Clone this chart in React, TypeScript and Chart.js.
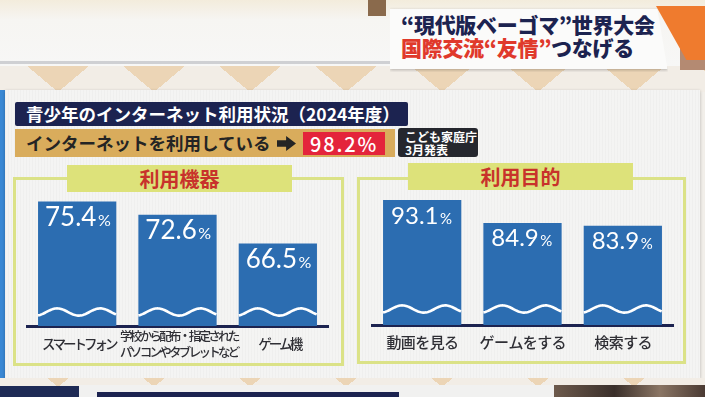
import React, { useEffect, useRef } from 'react';
import { Chart, registerables } from 'chart.js';

Chart.register(...registerables);

// ---------- data ----------
const headlineLine1 = '“現代版ベーゴマ”世界大会';
const headlineLine2Red = '国際交流“友情”';
const headlineLine2Navy = 'つなげる';
const surveyTitle = '青少年のインターネット利用状況（2024年度）';
const usageLabel = 'インターネットを利用している';
const usageRate = 98.2;
const sourceLines = ['こども家庭庁', '3月発表'];

const deviceTitle = '利用機器';
const deviceLabels: (string | string[])[] = [
  'スマートフォン',
  ['学校から配布・指定された', 'パソコンやタブレットなど'],
  'ゲーム機',
];
const deviceValues = [75.4, 72.6, 66.5];

const purposeTitle = '利用目的';
const purposeLabels: (string | string[])[] = ['動画を見る', 'ゲームをする', '検索する'];
const purposeValues = [93.1, 84.9, 83.9];

// ---------- styles ----------
const JP = '"Noto Sans CJK JP", "Noto Sans", sans-serif';
const NUM = 'Lato, "Noto Sans", sans-serif';
const BAR_BLUE = '#2c6db1';
const NAVY = '#1c2350';
const RED_TEXT = '#c8322b';
const PANEL_BORDER = '#dbe287';
const PANEL_HEAD = '#dde27a';

// x category labels, positioned by the x scale, vertically centred under the axis
const categoryLabelPlugin = {
  id: 'catLabels',
  afterDraw(chart: any, _a: any, opts: any) {
    const ctx = chart.ctx as CanvasRenderingContext2D;
    const xScale = chart.scales.x;
    const labels = chart.data.labels as (string | string[])[];
    ctx.save();
    ctx.fillStyle = opts.color;
    ctx.textAlign = 'center';
    ctx.textBaseline = 'middle';
    labels.forEach((l, i) => {
      const lines = Array.isArray(l) ? l : [l];
      const multi = lines.length > 1;
      const size = multi ? opts.longSize : opts.size;
      const spacing = multi ? opts.longSpacing : opts.spacing;
      (ctx as any).letterSpacing = `${spacing}px`;
      ctx.font = `500 ${size}px ${JP}`;
      const x = xScale.getPixelForTick(i);
      const cy = chart.chartArea.bottom + opts.offset;
      lines.forEach((line, j) => {
        const yy = cy + (j - (lines.length - 1) / 2) * opts.lineHeight;
        ctx.fillText(line, x - spacing / 2, yy);
      });
    });
    ctx.restore();
  },
};

const barDecorPlugin = {
  id: 'barDecor',
  afterDatasetsDraw(chart: any, _a: any, opts: any) {
    const ctx = chart.ctx as CanvasRenderingContext2D;
    const meta = chart.getDatasetMeta(0);
    const data = chart.data.datasets[0].data as number[];
    const base = chart.chartArea.bottom;
    ctx.save();
    meta.data.forEach((bar: any, i: number) => {
      const x = bar.x as number;
      const y = bar.y as number;
      const width = bar.width as number;
      const left = x - width / 2;
      const right = x + width / 2;
      // wave
      const cy = base - opts.waveRise;
      const P = width * 0.55;
      const A = 3.6;
      const phase = width * 0.03;
      ctx.beginPath();
      let first = true;
      for (let px = left; px <= right + 0.01; px += 1) {
        const yy = cy + A * Math.cos((2 * Math.PI * (px - left + phase)) / P);
        if (first) {
          ctx.moveTo(px, yy);
          first = false;
        } else ctx.lineTo(px, yy);
      }
      ctx.strokeStyle = '#ffffff';
      ctx.lineWidth = 2.6;
      ctx.lineCap = 'butt';
      ctx.stroke();
      // value label
      const num = data[i].toFixed(1);
      ctx.fillStyle = '#ffffff';
      ctx.textAlign = 'left';
      ctx.textBaseline = 'alphabetic';
      ctx.font = `400 ${opts.size}px ${NUM}`;
      const tx = left + opts.inset;
      const ty = y + opts.baseline;
      ctx.fillText(num, tx, ty);
      const w = ctx.measureText(num).width;
      ctx.font = `400 ${opts.pctSize}px ${NUM}`;
      ctx.fillText('%', tx + w + 1.5, ty);
    });
    ctx.restore();
  },
};

type BarProps = {
  labels: (string | string[])[];
  values: number[];
  yMin: number;
  yMax: number;
  left: number;
  top: number;
  width: number;
  height: number;
  padLeft: number;
  padRight: number;
  padTop: number;
  axisHeight: number;
  labelSize: number;
  longLabelSize: number;
  labelOffset: number;
  spacing: number;
  longSpacing: number;
  valueSize: number;
  pctSize: number;
  valueBaseline: number;
  inset: number;
  waveRise: number;
};

function BarPanel(p: BarProps) {
  const ref = useRef<HTMLCanvasElement>(null);
  useEffect(() => {
    if (!ref.current) return;
    const chart = new Chart(ref.current, {
      type: 'bar',
      data: {
        labels: p.labels as any,
        datasets: [
          {
            data: p.values,
            backgroundColor: BAR_BLUE,
            borderWidth: 0,
            categoryPercentage: 1,
            barPercentage: 0.78,
          },
        ],
      },
      options: {
        animation: false,
        responsive: false,
        maintainAspectRatio: false,
        devicePixelRatio: 1,
        layout: { padding: { left: p.padLeft, right: p.padRight, top: p.padTop, bottom: 0 } },
        plugins: {
          legend: { display: false },
          tooltip: { enabled: false },
          catLabels: {
            spacing: p.spacing,
            longSpacing: p.longSpacing,
            color: '#2f2f35',
            size: p.labelSize,
            longSize: p.longLabelSize,
            lineHeight: 16,
            offset: p.labelOffset,
          },
          barDecor: {
            size: p.valueSize,
            pctSize: p.pctSize,
            baseline: p.valueBaseline,
            inset: p.inset,
            waveRise: p.waveRise,
          },
        } as any,
        scales: {
          x: {
            grid: { display: false, drawTicks: false },
            border: { display: true, color: NAVY, width: 3 },
            ticks: { display: false },
            afterFit: (scale: any) => {
              scale.height = p.axisHeight;
            },
          } as any,
          y: { display: false, min: p.yMin, max: p.yMax },
        },
      },
      plugins: [categoryLabelPlugin, barDecorPlugin],
    });
    return () => chart.destroy();
  }, []);
  return (
    <canvas
      ref={ref}
      width={p.width}
      height={p.height}
      style={{ position: 'absolute', left: p.left, top: p.top, width: p.width, height: p.height }}
    />
  );
}

const abs = (left: number, top: number, width: number, height: number): React.CSSProperties => ({
  position: 'absolute',
  left,
  top,
  width,
  height,
  boxSizing: 'border-box',
});

export default function App() {
  const band =
    'conic-gradient(from -50deg at 50% 100%, #ecd5b6 0deg 100deg, transparent 100deg) 10px 0 / 96px 100% repeat-x, #f2ede6';
  return (
    <div
      style={{
        position: 'fixed',
        left: 0,
        top: 0,
        width: 705,
        height: 397,
        overflow: 'hidden',
        fontFamily: JP,
        background: '#f2efea',
      }}
    >
      {/* top studio area */}
      <div
        style={{
          ...abs(0, 0, 705, 66),
          background: 'linear-gradient(180deg, #f3ecdc 0%, #f6f5f2 30%, #f7f7f6 100%)',
        }}
      />
      <div style={{ ...abs(0, 61, 392, 3), background: '#cfd0d3' }} />
      <div style={{ ...abs(368, 0, 18, 16), background: '#8a6a4c' }} />
      {/* triangle band */}
      <div style={{ ...abs(0, 66, 705, 26), background: band }} />

      {/* headline caption */}
      <div style={{ ...abs(680, 6, 25, 64), background: '#b48a72' }} />
      <div
        style={{
          ...abs(656, 6, 49, 54),
          background: '#ef7b2e',
          clipPath: 'polygon(0 0, 100% 0, 100% 100%, 62% 100%)',
        }}
      />
      <div
        style={{
          ...abs(390, 9, 278, 60),
          background: '#fbfbfa',
          boxShadow: '0 1px 3px rgba(0,0,0,0.25)',
          clipPath: 'polygon(0 -5%, 96% -5%, 100% 105%, 0 105%)',
        }}
      />
      <div
        style={{
          position: 'absolute',
          left: 401,
          top: 13,
          fontSize: 21,
          fontWeight: 900,
          lineHeight: '23px',
          color: NAVY,
          letterSpacing: -0.3,
          whiteSpace: 'nowrap',
        }}
      >
        <div>{headlineLine1}</div>
        <div>
          <span style={{ color: '#e0392b' }}>{headlineLine2Red}</span>
          <span>{headlineLine2Navy}</span>
        </div>
      </div>

      {/* board */}
      <div style={{ ...abs(0, 90, 6, 288), background: '#3a88d4' }} />
      <div
        style={{
          ...abs(5, 90, 695, 288),
          background:
            'repeating-linear-gradient(90deg, rgba(0,0,0,0.018) 0 1px, transparent 1px 3px), #f4f4f3',
          boxShadow: '0 1px 3px rgba(0,0,0,0.25)',
        }}
      />

      {/* title */}
      <div
        style={{
          ...abs(15, 102, 393, 24),
          background: NAVY,
          borderRadius: 2,
          color: '#fff',
          fontSize: 17.5,
          fontWeight: 700,
          lineHeight: '24px',
          paddingLeft: 11,
          whiteSpace: 'nowrap',
        }}
      >
        {surveyTitle}
      </div>
      <div
        style={{
          ...abs(15, 129, 380, 28),
          background: '#d9ac5c',
          color: '#242424',
          fontSize: 17.5,
          fontWeight: 700,
          lineHeight: '28px',
          paddingLeft: 11,
          whiteSpace: 'nowrap',
        }}
      >
        {usageLabel}
      </div>
      <div
        style={{
          ...abs(277, 136, 19, 15),
          background: '#242424',
          clipPath: 'polygon(0 28%, 48% 28%, 48% 0, 100% 50%, 48% 100%, 48% 72%, 0 72%)',
        }}
      />
      <div
        style={{
          ...abs(303, 132, 82, 23),
          background: '#e4243b',
          color: '#fff',
          fontSize: 20,
          fontWeight: 500,
          lineHeight: '23px',
          textAlign: 'center',
          letterSpacing: 1.8,
          whiteSpace: 'nowrap',
        }}
      >
        {usageRate.toFixed(1)}%
      </div>
      <div
        style={{
          ...abs(398, 128, 80, 29),
          background: '#25272e',
          borderRadius: 3,
          color: '#fff',
          fontSize: 12,
          fontWeight: 700,
          lineHeight: '13px',
          padding: '2px 0 0 7px',
          whiteSpace: 'nowrap',
        }}
      >
        {sourceLines.map((s) => (
          <div key={s}>{s}</div>
        ))}
      </div>

      {/* panels */}
      <div style={{ ...abs(13, 177, 331, 189), border: `3px solid ${PANEL_BORDER}` }} />
      <div style={{ ...abs(357, 177, 329, 187), border: `3px solid ${PANEL_BORDER}` }} />
      <div
        style={{
          ...abs(67, 165, 225, 27),
          background: PANEL_HEAD,
          color: RED_TEXT,
          fontSize: 20,
          fontWeight: 700,
          lineHeight: '27px',
          textAlign: 'center',
        }}
      >
        {deviceTitle}
      </div>
      <div
        style={{
          ...abs(408, 163, 225, 27),
          background: PANEL_HEAD,
          color: RED_TEXT,
          fontSize: 20,
          fontWeight: 700,
          lineHeight: '27px',
          textAlign: 'center',
        }}
      >
        {purposeTitle}
      </div>

      <BarPanel
        labels={deviceLabels}
        values={deviceValues}
        yMin={49}
        yMax={77}
        left={20}
        top={188}
        width={316}
        height={177}
        padLeft={7}
        padRight={8}
        padTop={6}
        axisHeight={39}
        labelSize={13.5}
        longLabelSize={12.5}
        labelOffset={18}
        spacing={-3}
        longSpacing={-2.7}
        valueSize={26}
        pctSize={16}
        valueBaseline={24.5}
        inset={7}
        waveRise={14}
      />
      <BarPanel
        labels={purposeLabels}
        values={purposeValues}
        yMin={48.5}
        yMax={95.6}
        left={365}
        top={187}
        width={315}
        height={177}
        padLeft={7}
        padRight={7}
        padTop={6}
        axisHeight={39}
        labelSize={15}
        longLabelSize={15}
        labelOffset={17}
        spacing={-0.6}
        longSpacing={-0.6}
        valueSize={24}
        pctSize={15}
        valueBaseline={23.5}
        inset={8}
        waveRise={16}
      />

      {/* bottom strip */}
      <div style={{ ...abs(0, 378, 705, 9), background: band }} />
      <div style={{ ...abs(0, 386, 79, 11), background: '#1e2a55' }} />
      <div style={{ ...abs(79, 385, 476, 12), background: '#f1f1f0' }} />
      <div style={{ ...abs(97, 392, 302, 5), background: NAVY }} />
      <div
        style={{
          ...abs(554, 385, 151, 12),
          background: 'linear-gradient(90deg, #6d5a4c 0%, #3a2f2a 40%, #8a7564 70%, #4a3a33 100%)',
        }}
      />
    </div>
  );
}
